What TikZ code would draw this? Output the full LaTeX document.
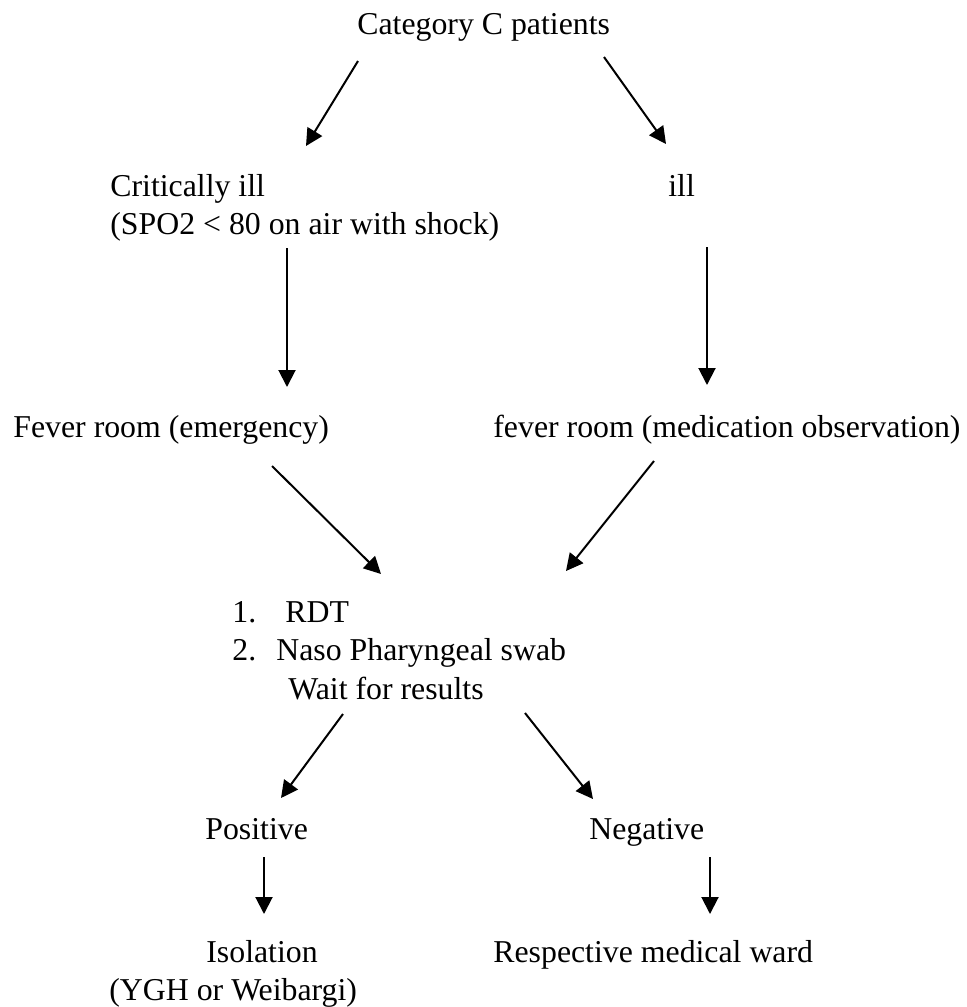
\documentclass[tikz,border=0pt]{standalone}
\usepackage{fontspec}
\setmainfont{Liberation Serif}
\usepackage{tikz}
\usetikzlibrary{arrows.meta, calc}

\begin{document}
\begin{tikzpicture}[x=0.5pt, y=-0.5pt,
    txt/.style={anchor=base west, inner sep=0pt, font=\fontsize{15.9}{19.3}\selectfont},
    arr/.style={-{Triangle[length=8.5pt, width=8.5pt]}, line width=1pt}]
  \useasboundingbox (0,0) rectangle (967,1007);

  % Levels of the flow
  \node[txt] (cat)   at (357,34)  {Category C patients};
  \node[txt] (crit)  at (110,196) {\begin{tabular}[t]{@{}l@{}}Critically ill\\(SPO2 < 80 on air with shock)\end{tabular}};
  \node[txt] (ill)   at (668,196) {ill};
  \node[txt] (fevA)  at (13,437)  {Fever room (emergency)};
  \node[txt] (fevB)  at (493,437) {fever room (medication observation)};
  \node[txt] (tests) at (232,622) {\begin{tabular}[t]{@{}l@{}}
      \makebox[22pt][l]{1.}\hspace*{4.5pt}RDT\\
      \makebox[22pt][l]{2.}Naso Pharyngeal swab\\
      \hspace*{28pt}Wait for results\end{tabular}};
  \node[txt] (pos)   at (205,839) {Positive};
  \node[txt] (neg)   at (589,839) {Negative};
  \node[txt] (iso)   at (109,962) {\begin{tabular}[t]{@{}l@{}}\hspace*{48.5pt}Isolation\\(YGH or Weibargi)\end{tabular}};
  \node[txt] (ward)  at (493,962) {Respective medical ward};

  % Arrows
  \draw[arr] ($(cat.base west)+(1,27)$)     -- ($(crit.base west)+(196,-50)$);
  \draw[arr] ($(cat.base west)+(247,23)$)   -- ($(ill.base west)+(-2,-52)$);
  \draw[arr] ($(crit.base west)+(177,52)$)  -- ($(fevA.base west)+(274,-50)$);
  \draw[arr] ($(ill.base west)+(39,51)$)    -- ($(fevB.base west)+(214,-52)$);
  \draw[arr] ($(fevA.base west)+(259,29)$)  -- ($(tests.base west)+(149,-48)$);
  \draw[arr] ($(fevB.base west)+(161,24)$)  -- ($(tests.base west)+(334,-51)$);
  \draw[arr] ($(tests.base west)+(111,92)$) -- ($(pos.base west)+(76,-41)$);
  \draw[arr] ($(tests.base west)+(293,91)$) -- ($(neg.base west)+(4,-40)$);
  \draw[arr] ($(pos.base west)+(59,18)$)    -- ($(iso.base west)+(155,-48)$);
  \draw[arr] ($(neg.base west)+(121,18)$)   -- ($(ward.base west)+(217,-48)$);
\end{tikzpicture}
\end{document}
